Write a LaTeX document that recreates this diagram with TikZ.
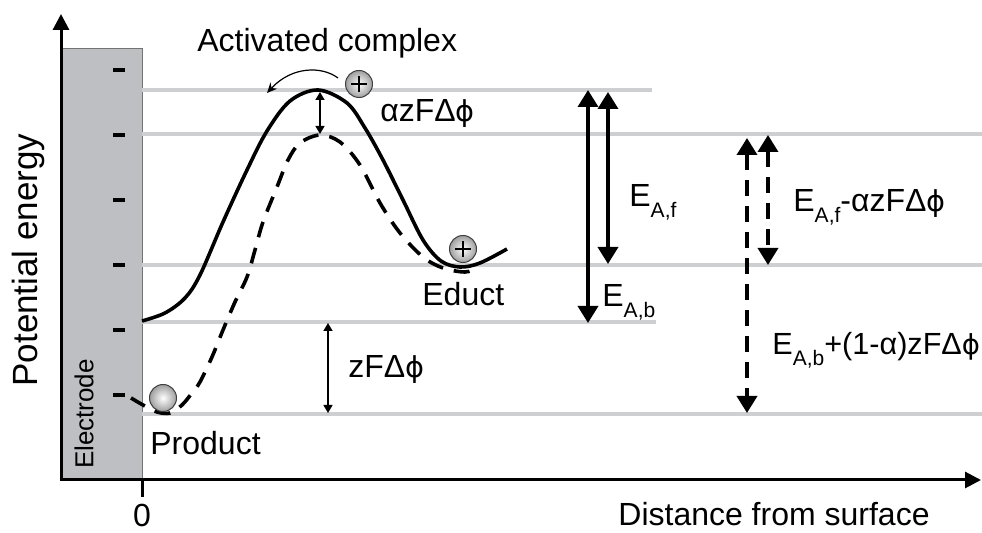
\documentclass[tikz,border=0pt]{standalone}
\usepackage{fontspec}
\setmainfont{Liberation Sans}
\newfontfamily\dejavu{DejaVu Sans}[Scale=0.9]
\usetikzlibrary{arrows.meta}
\definecolor{elec}{RGB}{190,191,194}
\definecolor{level}{RGB}{206,207,209}
\newcommand{\mysub}[1]{\raisebox{-5.5pt}{\fontsize{10.5}{11}\selectfont #1}}
\newcommand{\gphi}{{\dejavu ϕ}}
\begin{document}
\begin{tikzpicture}[x=0.5pt,y=-0.5pt,
 lvl/.style={draw=level,line width=1.6pt},
 axisline/.style={line width=1.5pt,-{Triangle[length=8pt,width=8pt]}},
 curve/.style={line width=1.8pt,line join=round},
 dcurve/.style={curve,dash pattern=on 8pt off 5.5pt},
 big/.style={line width=1.8pt,{Triangle[length=8.5pt,width=10pt]}-{Triangle[length=8.5pt,width=10pt]}},
 dbig/.style={big,dash pattern=on 8pt off 5pt},
 small/.style={line width=0.7pt,{Triangle[length=4pt,width=4.5pt]}-{Triangle[length=4pt,width=4.5pt]}},
 lab/.style={inner sep=0pt,font=\fontsize{16}{19}\selectfont},
 ion/.style={circle,draw=black!75,line width=0.5pt,minimum size=13.5pt,inner sep=0pt,shading=radial,inner color=white,outer color=black!38},
 plusline/.style={line width=1.1pt},
 ebar/.style={line width=2pt}
]
\useasboundingbox (0,0) rectangle (982,533);

% electrode
\draw[fill=elec,draw=black!55,line width=0.5pt] (61,49) rectangle (142,480);
\foreach \y in {70,135,200,265,330,395} \draw[ebar] (113,\y) -- (125,\y);

% energy levels
\draw[lvl] (142,90) -- (652,90);
\draw[lvl] (142,134) -- (982,134);
\draw[lvl] (142,265) -- (982,265);
\draw[lvl] (142,322) -- (656,322);
\draw[lvl] (142,414) -- (982,414);

% axes
\coordinate (O) at (61,480);
\coordinate (ytop) at (61,14);
\coordinate (xend) at (981,480);
\draw[axisline] (O) -- (ytop);
\draw[axisline] ([xshift=-0.7pt]O) -- (xend);
\coordinate (t0) at (142,480);
\coordinate (t1) at (142,497);
\draw[line width=1.5pt] (t0) -- (t1);

% curves
\draw[curve] plot[smooth,tension=0.55] coordinates {(142,321) (165,313) (185,298) (200,275) (223,222) (247,170) (267,131) (290,101) (318,90) (347,103) (365,128) (383,160) (403,200) (423,240) (441,261) (460,267) (480,263) (507,249)};
\draw[dcurve] plot[smooth,tension=0.55] coordinates {(131,398) (143,405) (157,412) (170,413) (182,405) (192,393) (200,382) (212,357) (223,330) (235,302) (247,277) (255,250) (263,222) (277,187) (288,160) (300,143) (320,135) (340,142) (360,165) (380,203) (400,233) (423,257) (443,268) (465,272) (478,268)};

% ions
\node[ion] (ionA) at (359,84) {};
\node[ion] (ionE) at (463,249) {};
\node[ion] (prodball) at (163,398) {};
\foreach \n in {ionA,ionE}{
 \draw[plusline] ([xshift=-3.8pt]\n.center) -- ([xshift=3.8pt]\n.center);
 \draw[plusline] ([yshift=-3.8pt]\n.center) -- ([yshift=3.8pt]\n.center);
}

% curved arrow
\coordinate (ca1) at (338,78);
\coordinate (ca2) at (267,93);
\draw[line width=0.6pt,-{Stealth[length=5pt,width=4.5pt]}] (ca1) .. controls (322,66) and (292,66) .. (ca2);

% small arrows
\coordinate (pk1) at (320,92);
\coordinate (pk2) at (320,134);
\draw[small] (pk1) -- (pk2);
\coordinate (zf1) at (328,323);
\coordinate (zf2) at (328,413);
\draw[small] (zf1) -- (zf2);

% big arrows
\coordinate (a1) at (588,90);  \coordinate (a2) at (588,323);
\coordinate (b1) at (608,92);  \coordinate (b2) at (608,264);
\coordinate (c1) at (747,138); \coordinate (c2) at (747,413);
\coordinate (d1) at (768,135); \coordinate (d2) at (768,265);
\draw[big] (a1) -- (a2);
\draw[big] (b1) -- (b2);
\draw[dbig] (c1) -- (c2);
\draw[dbig] (d1) -- (d2);

% labels
\node[lab,anchor=base west] (act) at (197,52) {Activated complex};
\node[lab,anchor=base west] (dphi1) at (380,122) {αzFΔ\gphi};
\node[lab,anchor=base west] (educt) at (422,306) {Educt};
\node[lab,anchor=base west] (prod) at (150,455) {Product};
\node[lab,anchor=base west] (zf) at (348,378) {zFΔ\gphi};
\node[lab,anchor=base west] (eaf) at (629,207) {E\mysub{A,f}};
\node[lab,anchor=base west] (eab) at (602,307) {E\mysub{A,b}};
\node[lab,anchor=base west] (eaf2) at (793,212) {E\mysub{A,f}-αzFΔ\gphi};
\node[lab,anchor=base west,font=\fontsize{15.3}{18}\selectfont] (eab2) at (772,355) {E\mysub{A,b}+(1-α)zFΔ\gphi};
\node[lab,anchor=base] (zero) at (142,527) {0};
\node[lab,anchor=base west] (dist) at (618,526) {Distance from surface};
\node[lab,font=\fontsize{17.5}{20}\selectfont,rotate=90] (pe) at (28,260) {Potential energy};
\node[lab,font=\fontsize{13}{15}\selectfont,rotate=90] (el) at (84,414) {Electrode};
\end{tikzpicture}
\end{document}
